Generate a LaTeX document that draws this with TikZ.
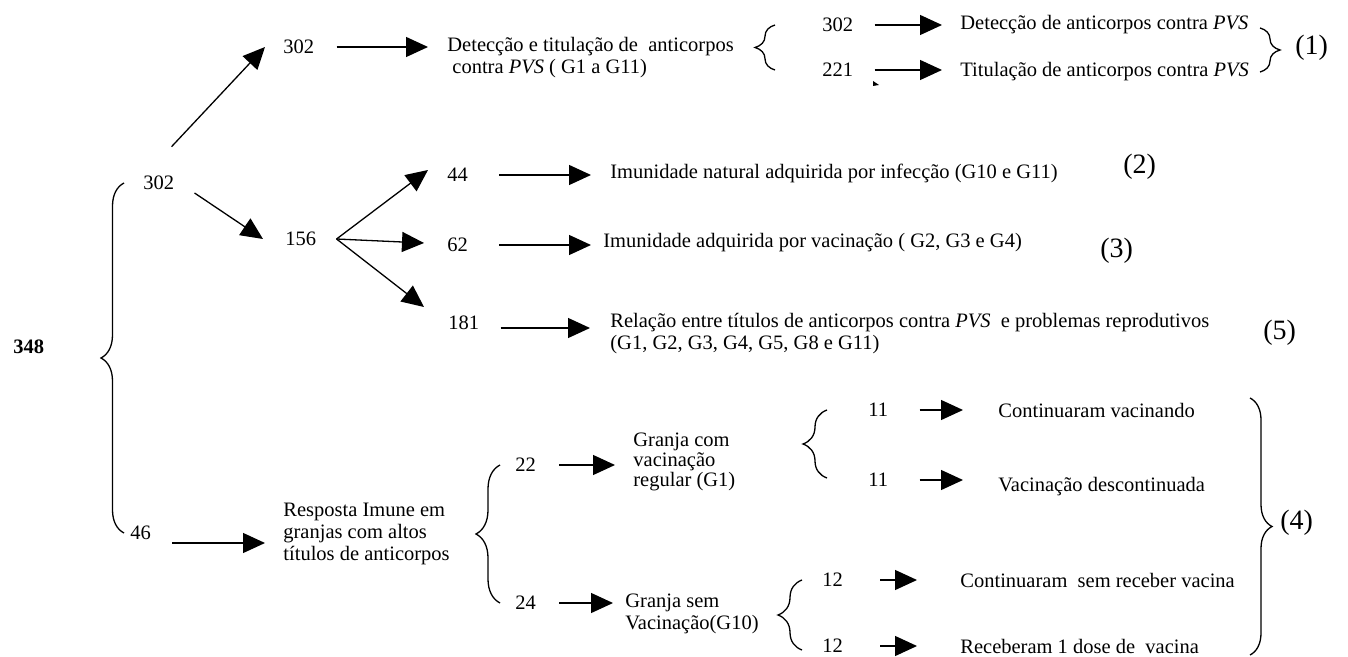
\documentclass[tikz,border=0pt]{standalone}
\usepackage{fontspec}
\setmainfont{Liberation Serif}
\usetikzlibrary{arrows.meta, positioning, decorations.pathreplacing}
\tikzset{
x=0.5pt, y=-0.5pt, % one unit is one pixel of the scan, y runs downwards
every node/.style={inner sep=0pt, anchor=west, font=\fontsize{10.25}{11}\selectfont},
arr/.style={-{Triangle[length=11pt,width=10pt]}, line width=0.65pt}, % the big black heads
txt/.style={align=left},
tag/.style={font=\fontsize{14}{16}\selectfont}, % the numbers (1) ... (5)
brace/.style={decorate, decoration={brace, amplitude=#1}, line width=0.65pt},
brace/.default=11pt,
}
\begin{document}
\begin{tikzpicture}
\useasboundingbox (0,0) rectangle (1348,657);
% left column
\node (n348) at (13,347) {\textbf{348}};
\node (a302) at (143,183) {302};
\node (n46) at (130,533) {46};
\draw[brace=11.5pt] (124,533) -- (124,183);
% upper branch
\node (b302) at (283,47) {302};
\node[txt] (t1) at (447,58) {Detecção e titulação de\ \ anticorpos\\\hspace{2.5pt}contra \textit{PVS} ( G1 a G11)};
\draw[brace=10pt] (775,70) -- (775,25);
\node (c302) at (822,25) {302};
\node (c221) at (822,70) {221};
\node (t1a) at (960,25) {Detecção de anticorpos contra \textit{PVS}};
\node (t1b) at (960,72) {Titulação de anticorpos contra \textit{PVS}};
\draw[brace=10pt] (1260,28) -- (1260,72);
\node[tag] (tag1) at (1295,48) {(1)};
\fill (873,81) -- (879,85) -- (873,86) -- cycle;
% middle branch
\node (n156) at (285,239) {156};
\node (n44) at (447,175) {44};
\node (n62) at (447,245) {62};
\node (n181) at (448,323) {181};
\node (t2) at (610,173) {Imunidade natural adquirida por infecção (G10 e G11)};
\node (t3) at (603,243) {Imunidade adquirida por vacinação ( G2, G3 e G4)};
\node[txt] (t5) at (610,334) {Relação entre títulos de anticorpos contra \textit{PVS}\ \ e problemas reprodutivos\\(G1, G2, G3, G4, G5, G8 e G11)};
\node[tag] (tag2) at (1123,167) {(2)};
\node[tag] (tag3) at (1100,251) {(3)};
\node[tag] (tag5) at (1263,333) {(5)};
% lower branch
\node[txt] (t4) at (283,534) {Resposta Imune em\\granjas com altos\\títulos de anticorpos};
\draw[brace=12pt] (500,603) -- (500,465);
\node (n22) at (515,465) {22};
\node (n24) at (515,603) {24};
\node[txt, font=\fontsize{10.25}{10}\selectfont] (g1) at (633,462) {Granja com\\vacinação\\regular (G1)};
\node[txt] (g10) at (625,614) {Granja sem\\Vacinação(G10)};
\draw[brace=12pt] (827,478) -- (827,410);
\node (n11a) at (868,410) {11};
\node (n11b) at (868,480) {11};
\draw[brace=12pt] (802,650) -- (802,580);
\node (n12a) at (822,580) {12};
\node (n12b) at (822,646) {12};
\node (t11a) at (998,410) {Continuaram vacinando};
\node (t11b) at (998,487) {Vacinação descontinuada};
\node (t12a) at (960,580) {Continuaram\ \ sem receber vacina};
\node (t12b) at (960,646) {Receberam 1 dose de\ \ vacina};
\draw[brace=11pt] (1250,398) -- (1250,655);
\node[tag] (tag4) at (1280,523) {(4)};
% arrows
\draw[arr] ([shift={(-1.5pt,14.5pt)}]a302.north east) -- ([xshift=-9pt]b302.west);
\draw[arr] ([shift={(10pt,-5pt)}]a302.east) -- ([xshift=-11pt]n156.west);
\draw[arr] ([xshift=10pt]n156.east) -- ([shift={(-9.5pt,2.5pt)}]n44.west);
\draw[arr] ([xshift=10pt]n156.east) -- ([shift={(-11.5pt,1pt)}]n62.west);
\draw[arr] ([xshift=10pt]n156.east) -- ([shift={(-12pt,8pt)}]n181.west);
\foreach \a/\b/\s/\e in {b302/t1/11pt/9.5pt, c302/t1a/10.5pt/9pt, c221/t1b/10.5pt/9pt,
  n44/t2/15.5pt/9.5pt, n62/t3/15.5pt/6pt, n22/g1/11.5pt/9pt, n24/g10/11.5pt/6pt,
  n11a/t11a/15.5pt/17.5pt, n11b/t11b/15.5pt/17.5pt, n12a/t12a/18.5pt/21.5pt, n12b/t12b/18.5pt/21.5pt}
  \draw[arr, shorten <=\s, shorten >=\e] (\a.east) -- (\a.east -| \b.west);
\draw[arr, shorten <=10.5pt, shorten >=10pt] ([yshift=-2.5pt]n181.east) -- ([yshift=-2.5pt]n181.east -| t5.west);
\draw[arr, shorten <=10.5pt, shorten >=9pt] ([yshift=-5pt]n46.east) -- ([yshift=-5pt]n46.east -| t4.west);
\end{tikzpicture}
\end{document}
